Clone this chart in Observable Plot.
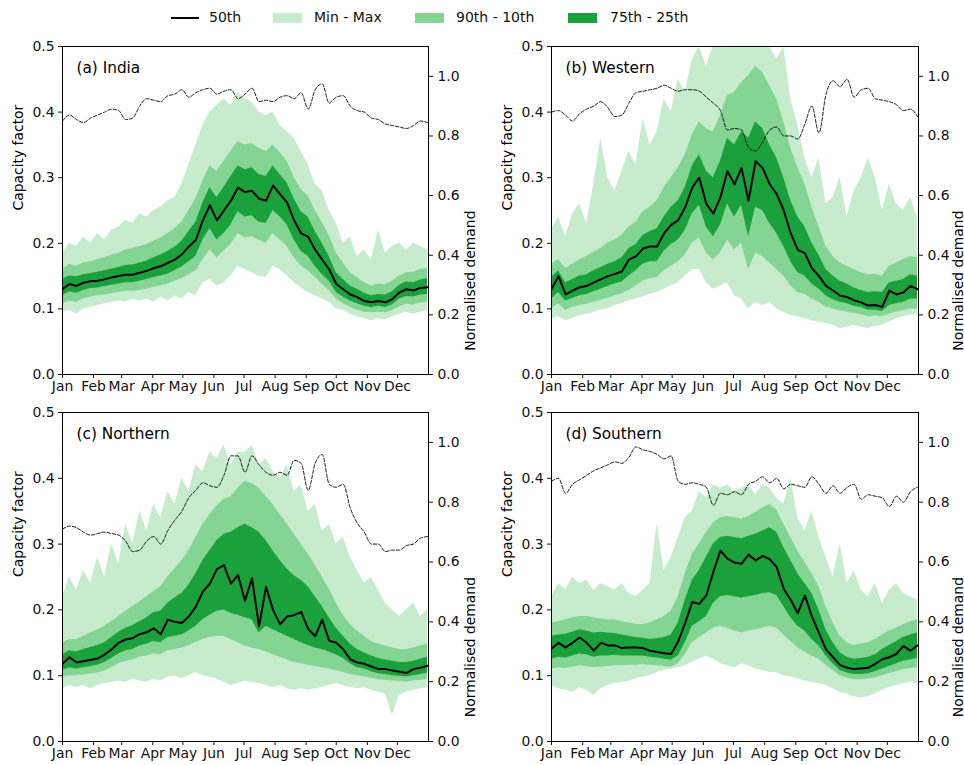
<!DOCTYPE html>
<html>
<head>
<meta charset="utf-8">
<script src="https://cdn.jsdelivr.net/npm/d3@7"></script>
<script src="https://cdn.jsdelivr.net/npm/@observablehq/plot@0.6"></script>
<style>
  html, body { margin: 0; padding: 0; background: #fff; }
  #fig { position: relative; width: 964px; height: 765px; font-family: "DejaVu Sans", sans-serif; }
  .panel { position: absolute; }
  .leg { position: absolute; font-size: 14px; color: #111; line-height: 1; }
  .sw { position: absolute; height: 10px; width: 29px; }
</style>
</head>
<body>
<div id="fig">
  <div class="leg" style="left:171px; top:17px; width:28px; height:2px; background:#000;"></div>
  <div class="leg" style="left:209px; top:10px;">50th</div>
  <div class="sw" style="left:273px; top:13px; background:#c7ebcd;"></div>
  <div class="leg" style="left:314px; top:10px;">Min - Max</div>
  <div class="sw" style="left:415px; top:13px; background:#84d594;"></div>
  <div class="leg" style="left:456px; top:10px;">90th - 10th</div>
  <div class="sw" style="left:568px; top:13px; background:#1ba13b;"></div>
  <div class="leg" style="left:610px; top:10px;">75th - 25th</div>
</div>
<script>
// ---------- data ----------
const days = [0,7,14,21,28,35,42,49,56,63,70,77,84,91,98,105,112,119,126,133,140,147,154,161,168,175,182,189,196,203,210,217,224,231,238,245,252,259,266,273,280,287,294,301,308,315,322,329,336,343,350,357,364];
const monthStarts = [0,31,59,90,120,151,181,212,243,273,304,334];
const monthLabels = ["Jan","Feb","Mar","Apr","May","Jun","Jul","Aug","Sep","Oct","Nov","Dec"];
const cfTicks = [0,0.1,0.2,0.3,0.4,0.5];
const demandTicks = [0,0.2,0.4,0.6,0.8,1.0];

// (a) India
const indiaMed = [.130,.138,.135,.140,.142,.143,.145,.148,.150,.152,.152,.155,.158,.162,.165,.170,.175,.183,.195,.205,.235,.258,.235,.250,.265,.285,.278,.280,.268,.265,.288,.275,.262,.235,.215,.210,.190,.175,.160,.138,.130,.122,.118,.112,.110,.112,.110,.115,.125,.130,.128,.132,.133];
const indiaP25 = [.120,.126,.124,.128,.131,.132,.134,.136,.138,.140,.140,.142,.145,.148,.150,.153,.158,.164,.172,.180,.205,.222,.205,.215,.228,.248,.240,.242,.232,.230,.250,.240,.228,.205,.188,.180,.165,.152,.142,.125,.118,.112,.108,.104,.102,.104,.102,.106,.115,.119,.118,.121,.122];
const indiaP75 = [.145,.150,.149,.152,.154,.156,.158,.161,.163,.166,.167,.170,.173,.178,.182,.188,.194,.203,.218,.232,.262,.285,.270,.285,.302,.318,.312,.315,.305,.302,.318,.305,.292,.268,.248,.240,.218,.200,.180,.155,.145,.135,.130,.124,.120,.122,.121,.126,.136,.141,.140,.144,.146];
const indiaP10 = [.108,.112,.110,.115,.118,.120,.121,.123,.125,.127,.127,.128,.130,.133,.135,.138,.142,.146,.152,.158,.175,.190,.178,.188,.198,.215,.208,.210,.205,.200,.215,.205,.195,.178,.165,.158,.148,.138,.128,.115,.108,.102,.098,.095,.094,.095,.094,.097,.103,.107,.106,.109,.110];
const indiaP90 = [.160,.168,.165,.170,.172,.175,.178,.182,.185,.190,.192,.195,.198,.203,.208,.215,.222,.232,.250,.268,.295,.318,.310,.325,.340,.355,.350,.352,.345,.340,.350,.338,.325,.300,.282,.272,.250,.232,.212,.185,.170,.155,.148,.140,.135,.138,.137,.142,.150,.155,.156,.160,.162];
const indiaMin = [.095,.098,.092,.100,.102,.105,.108,.110,.112,.110,.115,.112,.115,.110,.118,.112,.120,.115,.125,.120,.140,.145,.135,.140,.150,.165,.160,.155,.150,.148,.165,.160,.150,.140,.132,.125,.120,.115,.110,.100,.098,.092,.088,.085,.082,.085,.083,.088,.092,.095,.092,.095,.097];
const indiaMax = [.185,.200,.195,.210,.200,.215,.205,.220,.225,.235,.230,.245,.240,.250,.255,.265,.270,.290,.320,.350,.380,.400,.410,.420,.410,.430,.420,.415,.400,.395,.400,.380,.370,.360,.340,.320,.290,.280,.250,.230,.200,.210,.180,.190,.175,.220,.185,.195,.200,.190,.200,.195,.190];
const indiaDemand = [.85,.87,.855,.845,.86,.87,.88,.89,.885,.855,.86,.90,.925,.92,.915,.935,.94,.955,.93,.945,.955,.96,.94,.95,.955,.925,.94,.96,.915,.92,.915,.93,.935,.925,.945,.89,.955,.975,.91,.93,.935,.90,.885,.88,.86,.855,.84,.835,.83,.825,.835,.85,.845];

// (b) Western
const westMed = [.130,.150,.122,.128,.133,.135,.140,.145,.150,.153,.157,.175,.180,.192,.195,.195,.215,.228,.235,.255,.285,.300,.260,.245,.270,.310,.290,.315,.265,.325,.315,.290,.275,.250,.215,.190,.185,.162,.150,.135,.128,.120,.118,.113,.110,.105,.106,.103,.128,.122,.125,.135,.130];
const westP25 = [.115,.125,.112,.116,.120,.122,.126,.130,.134,.138,.141,.150,.158,.168,.172,.172,.188,.198,.205,.220,.245,.258,.225,.210,.228,.260,.240,.258,.210,.255,.250,.230,.215,.195,.172,.155,.150,.138,.130,.120,.114,.110,.108,.104,.102,.098,.098,.096,.105,.108,.110,.115,.115];
const westP75 = [.148,.158,.140,.145,.150,.152,.158,.163,.168,.172,.178,.192,.198,.212,.218,.222,.240,.255,.265,.285,.318,.335,.310,.300,.325,.360,.350,.370,.360,.385,.375,.350,.330,.300,.265,.240,.225,.200,.182,.160,.150,.142,.138,.132,.128,.125,.126,.125,.140,.142,.145,.152,.150];
const westP10 = [.100,.108,.098,.102,.105,.107,.110,.113,.116,.120,.123,.128,.135,.142,.146,.148,.158,.165,.172,.182,.200,.208,.185,.175,.185,.205,.190,.200,.160,.185,.180,.170,.160,.150,.135,.125,.122,.115,.110,.103,.100,.097,.095,.093,.091,.088,.089,.088,.092,.095,.097,.100,.100];
const westP90 = [.168,.175,.162,.168,.175,.180,.186,.192,.200,.205,.212,.225,.232,.248,.255,.265,.285,.300,.315,.335,.365,.385,.375,.370,.395,.425,.430,.445,.455,.470,.460,.440,.420,.385,.345,.315,.290,.255,.225,.195,.180,.170,.165,.160,.155,.152,.153,.150,.165,.170,.175,.180,.178];
const westMin = [.085,.088,.082,.085,.090,.092,.095,.098,.100,.105,.108,.112,.115,.118,.122,.125,.130,.135,.140,.150,.160,.160,.140,.130,.135,.140,.120,.115,.100,.110,.105,.110,.100,.095,.090,.088,.085,.082,.080,.078,.075,.070,.072,.075,.072,.070,.073,.075,.080,.085,.088,.090,.092];
const westMax = [.220,.240,.210,.245,.260,.230,.290,.360,.300,.280,.310,.340,.320,.390,.350,.370,.420,.400,.450,.430,.480,.500,.470,.500,.500,.500,.500,.500,.500,.500,.500,.500,.480,.500,.420,.380,.330,.300,.330,.260,.270,.300,.240,.280,.300,.330,.300,.250,.290,.260,.250,.270,.240];
const westDemand = [.88,.885,.87,.85,.875,.89,.90,.915,.895,.865,.87,.91,.945,.95,.955,.96,.97,.96,.95,.955,.955,.95,.93,.91,.885,.82,.825,.82,.76,.75,.78,.82,.83,.80,.80,.79,.84,.90,.81,.94,.985,.965,.99,.93,.955,.96,.925,.92,.915,.905,.885,.89,.865];

// (c) Northern
const northMed = [.118,.128,.120,.122,.124,.126,.132,.140,.150,.155,.157,.163,.166,.172,.163,.185,.182,.180,.190,.205,.228,.240,.262,.268,.240,.253,.214,.248,.175,.235,.200,.178,.190,.192,.197,.171,.160,.185,.153,.150,.140,.125,.120,.118,.114,.110,.110,.108,.106,.104,.110,.112,.115];
const northP25 = [.108,.112,.110,.112,.114,.116,.120,.126,.133,.138,.140,.145,.148,.152,.150,.158,.160,.162,.168,.175,.185,.192,.198,.200,.195,.192,.188,.185,.165,.175,.170,.165,.160,.155,.150,.146,.142,.140,.136,.132,.126,.118,.112,.110,.106,.103,.102,.100,.099,.098,.100,.102,.104];
const northP75 = [.132,.138,.136,.140,.143,.146,.150,.158,.166,.172,.176,.182,.188,.196,.198,.210,.218,.225,.238,.255,.275,.290,.305,.315,.318,.325,.330,.325,.318,.305,.290,.275,.262,.252,.245,.235,.220,.205,.188,.172,.160,.148,.140,.135,.130,.126,.124,.122,.120,.120,.122,.125,.128];
const northP10 = [.098,.100,.100,.101,.103,.104,.107,.112,.118,.122,.124,.128,.130,.133,.132,.138,.140,.142,.146,.150,.155,.158,.160,.160,.155,.150,.145,.142,.140,.136,.132,.128,.124,.120,.118,.116,.114,.112,.110,.108,.105,.102,.100,.098,.096,.094,.093,.092,.091,.090,.092,.093,.095];
const northP90 = [.150,.155,.155,.160,.165,.170,.175,.182,.190,.198,.205,.212,.220,.228,.235,.250,.262,.275,.290,.310,.330,.345,.358,.368,.372,.385,.395,.392,.385,.372,.360,.345,.330,.315,.300,.285,.268,.250,.232,.210,.192,.178,.168,.160,.152,.148,.145,.142,.140,.140,.142,.145,.148];
const northMin = [.080,.085,.082,.085,.080,.085,.088,.090,.092,.090,.095,.092,.090,.095,.092,.098,.100,.095,.100,.105,.100,.098,.095,.090,.085,.088,.092,.090,.088,.085,.082,.085,.080,.078,.080,.078,.080,.082,.085,.088,.085,.082,.080,.082,.078,.075,.072,.040,.070,.075,.078,.080,.082];
const northMax = [.220,.250,.230,.260,.240,.280,.250,.300,.270,.330,.300,.350,.320,.360,.340,.380,.360,.400,.380,.420,.410,.440,.430,.450,.420,.440,.440,.450,.420,.430,.410,.400,.420,.380,.390,.350,.360,.320,.330,.300,.310,.280,.260,.240,.250,.230,.210,.200,.190,.200,.210,.190,.200];
const northDemand = [.71,.72,.715,.70,.69,.695,.70,.695,.69,.67,.635,.64,.67,.685,.66,.705,.74,.77,.815,.84,.865,.855,.85,.89,.955,.955,.90,.955,.925,.90,.89,.90,.89,.94,.93,.84,.93,.96,.86,.85,.86,.78,.73,.70,.66,.66,.635,.64,.64,.655,.66,.68,.685];

// (d) Southern
const southMed = [.141,.150,.143,.150,.158,.150,.138,.150,.146,.146,.142,.143,.143,.142,.138,.136,.134,.133,.152,.180,.212,.209,.222,.258,.290,.278,.272,.270,.284,.275,.282,.277,.265,.232,.215,.195,.222,.190,.165,.140,.128,.116,.112,.110,.111,.112,.118,.125,.128,.133,.145,.138,.146];
const southP25 = [.125,.128,.127,.130,.133,.132,.128,.130,.130,.131,.130,.130,.130,.130,.128,.127,.125,.124,.130,.150,.175,.182,.190,.210,.220,.222,.220,.218,.220,.222,.225,.226,.222,.205,.188,.175,.168,.155,.145,.130,.118,.108,.104,.102,.102,.103,.106,.110,.114,.118,.122,.124,.126];
const southP75 = [.160,.162,.163,.166,.170,.168,.165,.166,.165,.164,.162,.160,.158,.157,.155,.156,.158,.162,.180,.215,.245,.260,.280,.300,.310,.312,.310,.308,.312,.315,.320,.325,.318,.295,.275,.255,.240,.225,.200,.170,.150,.135,.128,.125,.126,.128,.132,.140,.146,.152,.158,.162,.165];
const southP10 = [.110,.112,.111,.113,.115,.114,.112,.113,.114,.115,.115,.116,.116,.117,.116,.115,.114,.113,.118,.132,.150,.158,.165,.172,.175,.172,.168,.165,.168,.170,.172,.175,.172,.162,.152,.142,.136,.130,.125,.116,.108,.100,.096,.094,.094,.095,.097,.100,.103,.106,.109,.111,.112];
const southP90 = [.180,.182,.185,.188,.190,.190,.188,.186,.185,.185,.182,.180,.178,.178,.180,.185,.190,.198,.220,.255,.285,.300,.318,.332,.340,.342,.340,.338,.342,.348,.355,.360,.352,.330,.310,.290,.272,.255,.235,.205,.180,.160,.150,.146,.148,.150,.155,.162,.168,.172,.178,.182,.185];
const southMin = [.085,.080,.078,.075,.082,.078,.070,.080,.085,.088,.090,.092,.095,.098,.100,.105,.108,.110,.112,.115,.120,.125,.130,.125,.118,.115,.112,.118,.115,.110,.108,.105,.105,.100,.098,.095,.092,.090,.088,.085,.080,.075,.072,.068,.066,.068,.072,.078,.082,.085,.088,.090,.088];
const southMax = [.220,.240,.230,.250,.240,.245,.230,.240,.235,.230,.240,.225,.220,.230,.240,.330,.260,.280,.310,.340,.350,.380,.370,.390,.385,.390,.380,.385,.390,.375,.390,.385,.370,.360,.400,.340,.320,.350,.310,.280,.250,.300,.240,.260,.230,.220,.240,.210,.230,.240,.225,.220,.215];
const southDemand = [.87,.88,.83,.86,.875,.89,.905,.915,.925,.935,.93,.95,.985,.975,.97,.96,.945,.955,.87,.86,.865,.86,.85,.79,.83,.825,.835,.825,.86,.87,.885,.865,.88,.845,.86,.855,.85,.885,.86,.83,.855,.83,.85,.86,.81,.825,.82,.815,.785,.82,.80,.835,.85];

// ---------- drawing ----------
const LIGHT = "#c7ebcd", MID = "#84d594", DARK = "#1ba13b";
const DEMAND_MAX = 1.1, CF_MAX = 0.5, RATIO = DEMAND_MAX / CF_MAX;

function rows(s) {
  const keys = ["med","p25","p75","p10","p90","min","max","demand"];
  keys.forEach(k => { if (s[k].length !== days.length) throw new Error(s.title + " " + k + " length " + s[k].length); });
  return days.map((d, i) => {
    const r = {day: d};
    keys.forEach(k => r[k] = s[k][i]);
    return r;
  });
}

function panel(s, box) {
  const data = rows(s);
  const fs = 13.9;
  return Plot.plot({
    width: box.width, height: box.height,
    marginLeft: box.ml, marginRight: box.mr, marginTop: box.mt, marginBottom: box.mb,
    x: {domain: [0, 365]},
    y: {domain: [0, CF_MAX]},
    style: {fontFamily: "DejaVu Sans", fontSize: fs + "px", background: "transparent", color: "#111", overflow: "visible"},
    marks: [
      Plot.areaY(data, {x: "day", y1: "min", y2: "max", fill: LIGHT, clip: true}),
      Plot.areaY(data, {x: "day", y1: "p10", y2: "p90", fill: MID, clip: true}),
      Plot.areaY(data, {x: "day", y1: "p25", y2: "p75", fill: DARK, clip: true}),
      Plot.lineY(data, {x: "day", y: "med", stroke: "#000", strokeWidth: 2, clip: true}),
      Plot.lineY(data, {x: "day", y: d => d.demand / RATIO, stroke: "#000", strokeWidth: 0.9, strokeDasharray: "3.5,1.8", curve: "monotone-x", clip: true}),
      Plot.frame({stroke: "#000", strokeWidth: 1}),
      Plot.axisX(monthStarts, {tickFormat: d => monthLabels[monthStarts.indexOf(d)], tickSize: 4, tickPadding: 3, label: null, fontSize: fs}),
      Plot.axisY(cfTicks, {anchor: "left", tickFormat: d => d.toFixed(1), tickSize: 4, tickPadding: 4, label: null, fontSize: fs}),
      Plot.axisY(demandTicks.map(v => v / RATIO), {anchor: "right", tickFormat: v => (v * RATIO).toFixed(1), tickSize: 4, tickPadding: 5, label: null, fontSize: fs}),
      Plot.text([s.title], {frameAnchor: "top-left", dx: 14, dy: 22, textAnchor: "start", lineAnchor: "middle", fontSize: 15.3, fill: "#000"}),
      Plot.text(["Capacity factor"], {frameAnchor: "left", rotate: -90, dx: -44, fontSize: fs, fill: "#000"}),
      Plot.text(["Normalised demand"], {frameAnchor: "right", rotate: -90, dx: box.rdx, fontSize: fs, fill: "#000"})
    ]
  });
}

const panels = [
  {s: {title: "(a) India", med: indiaMed, p25: indiaP25, p75: indiaP75, p10: indiaP10, p90: indiaP90, min: indiaMin, max: indiaMax, demand: indiaDemand},
   box: {left: 0, top: 0, width: 482, height: 395, ml: 62, mr: 54, mt: 46, mb: 21, rdx: 42}},
  {s: {title: "(b) Western", med: westMed, p25: westP25, p75: westP75, p10: westP10, p90: westP90, min: westMin, max: westMax, demand: westDemand},
   box: {left: 482, top: 0, width: 482, height: 395, ml: 69, mr: 46, mt: 46, mb: 21, rdx: 40}},
  {s: {title: "(c) Northern", med: northMed, p25: northP25, p75: northP75, p10: northP10, p90: northP90, min: northMin, max: northMax, demand: northDemand},
   box: {left: 0, top: 395, width: 482, height: 370, ml: 62, mr: 54, mt: 17, mb: 24, rdx: 42}},
  {s: {title: "(d) Southern", med: southMed, p25: southP25, p75: southP75, p10: southP10, p90: southP90, min: southMin, max: southMax, demand: southDemand},
   box: {left: 482, top: 395, width: 482, height: 370, ml: 69, mr: 46, mt: 17, mb: 24, rdx: 40}}
];

const fig = document.getElementById("fig");
for (const p of panels) {
  const div = document.createElement("div");
  div.className = "panel";
  div.style.left = p.box.left + "px";
  div.style.top = p.box.top + "px";
  div.appendChild(panel(p.s, p.box));
  fig.appendChild(div);
}
</script>
</body>
</html>
